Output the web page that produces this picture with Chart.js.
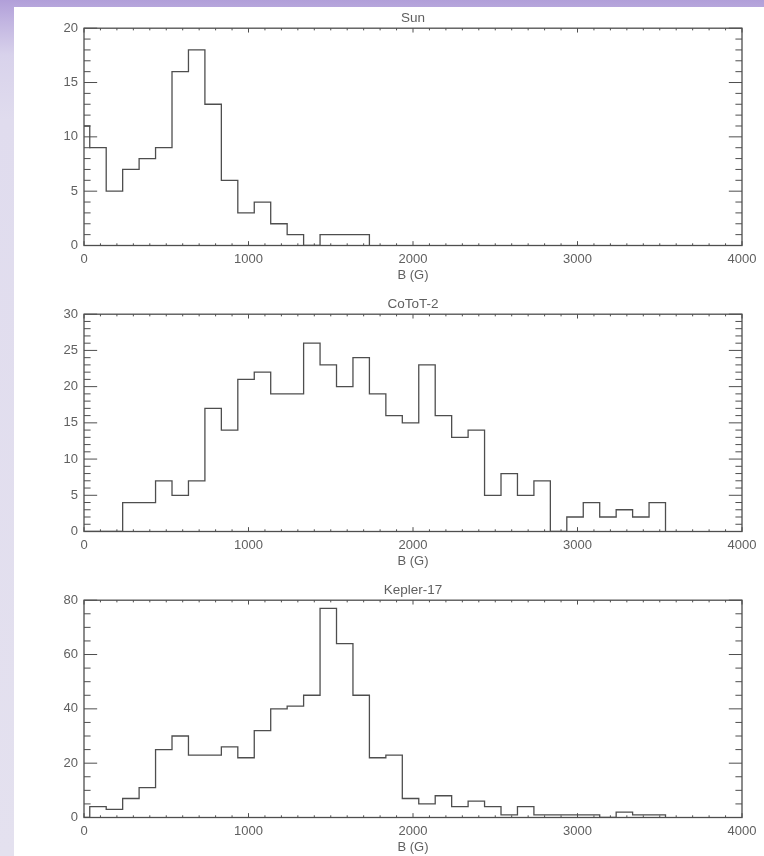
<!DOCTYPE html>
<html>
<head>
<meta charset="utf-8">
<script src="https://cdn.jsdelivr.net/npm/chart.js@4.4.1/dist/chart.umd.min.js"></script>
<style>
  html, body { margin: 0; padding: 0; width: 764px; height: 856px; overflow: hidden; }
  body {
    position: relative;
    background: linear-gradient(to bottom, #b19fd9 0px, #c2b5e1 22px, #d8d2eb 55px, #e0dcee 120px, #e4e1ef 100%);
  }
  #sheet { position: absolute; left: 14px; top: 7px; right: 0; bottom: 0; background: #ffffff; }
  canvas { position: absolute; left: 0; }
</style>
</head>
<body>
<div id="sheet"></div>
<canvas id="sunChart" width="764" height="286" style="top:0px"></canvas>
<canvas id="corotChart" width="764" height="286" style="top:286px"></canvas>
<canvas id="keplerChart" width="764" height="286" style="top:572px"></canvas>
<script>
// Bin edges of the field-strength histograms, in gauss (first bin is a partial one)
const binEdges = [0, 35, 135, 235, 335, 435, 535, 635, 735, 835, 935, 1035, 1135, 1235,
  1335, 1435, 1535, 1635, 1735, 1835, 1935, 2035, 2135, 2235, 2335, 2435, 2535, 2635,
  2735, 2835, 2935, 3035, 3135, 3235, 3335, 3435, 3535];

// Counts per bin for each star
const sunCounts = [11, 9, 5, 7, 8, 9, 16, 18, 13, 6, 3, 4, 2, 1, 0, 1, 1, 1];
const corotCounts = [0, 0, 0, 4, 4, 7, 5, 7, 17, 14, 21, 22, 19, 19, 26, 23, 20, 24, 19, 16,
  15, 23, 16, 13, 14, 5, 8, 5, 7, 0, 2, 4, 2, 3, 2, 4];
const keplerCounts = [0, 4, 3, 7, 11, 25, 30, 23, 23, 26, 22, 32, 40, 41, 45, 77, 64, 45, 22, 23,
  7, 5, 8, 4, 6, 4, 1, 4, 1, 1, 1, 1, 0, 2, 1, 1];

const panelTitles = ['Sun', 'CoToT-2', 'Kepler-17'];
const xAxisTitle = 'B (G)';
const xTickValues = [0, 1000, 2000, 3000, 4000];

const INK = '#4e4e4e';
const TEXT = '#606060';

Chart.defaults.font.family = '"Liberation Sans", Arial, sans-serif';
Chart.defaults.font.size = 13;
Chart.defaults.color = TEXT;

// Step points: each count sits on its bin's left edge, closed back to zero at the last edge
function stepPoints(counts) {
  const pts = counts.map((c, i) => ({ x: binEdges[i], y: c }));
  pts.push({ x: binEdges[counts.length], y: 0 });
  return pts;
}

// Box frame with inward major/minor tick marks on all four sides
const boxFrame = {
  id: 'boxFrame',
  afterDatasetsDraw(chart, args, opts) {
    const { ctx, chartArea: a, scales: { x, y } } = chart;
    const w = a.right - a.left, h = a.bottom - a.top;
    const xMaj = 0.02 * h, yMaj = 0.02 * w;
    ctx.save();
    ctx.strokeStyle = INK;
    ctx.lineWidth = 1;
    ctx.beginPath();
    for (let v = x.min; v <= x.max + 1e-6; v += opts.xMinor) {
      const px = x.getPixelForValue(v);
      const len = (Math.abs(v % opts.xMajor) < 1e-6) ? xMaj : xMaj / 2;
      ctx.moveTo(px, a.bottom); ctx.lineTo(px, a.bottom - len);
      ctx.moveTo(px, a.top); ctx.lineTo(px, a.top + len);
    }
    for (let v = y.min; v <= y.max + 1e-6; v += opts.yMinor) {
      const py = y.getPixelForValue(v);
      const len = (Math.abs(v % opts.yMajor) < 1e-6) ? yMaj : yMaj / 2;
      ctx.moveTo(a.left, py); ctx.lineTo(a.left + len, py);
      ctx.moveTo(a.right, py); ctx.lineTo(a.right - len, py);
    }
    ctx.stroke();
    ctx.lineWidth = 1.3;
    ctx.strokeRect(a.left, a.top, w, h);
    ctx.restore();
  }
};

function makePanel(canvasId, title, counts, yMax, yMajor, yMinor) {
  return new Chart(document.getElementById(canvasId), {
    type: 'line',
    data: {
      datasets: [{
        data: stepPoints(counts),
        stepped: true,
        borderColor: INK,
        borderWidth: 1.3,
        pointRadius: 0,
        fill: false,
        tension: 0
      }]
    },
    options: {
      responsive: false,
      animation: false,
      events: [],
      layout: { padding: { top: 0, right: 22, bottom: 0, left: 0 } },
      plugins: {
        legend: { display: false },
        tooltip: { enabled: false },
        title: {
          display: true,
          text: title,
          fullSize: false,
          color: TEXT,
          font: { size: 13.5, weight: 'normal' },
          padding: { top: 10, bottom: 2 }
        },
        boxFrame: { xMajor: 1000, xMinor: 100, yMajor: yMajor, yMinor: yMinor }
      },
      scales: {
        x: {
          type: 'linear',
          min: 0,
          max: 4000,
          afterBuildTicks(scale) { scale.ticks = xTickValues.map(v => ({ value: v })); },
          ticks: {
            padding: 6, maxRotation: 0, autoSkip: false, color: TEXT,
            callback: v => String(v)
          },
          grid: { display: false, drawTicks: false },
          border: { display: false },
          title: { display: true, text: xAxisTitle, color: TEXT, padding: { top: 0, bottom: 3 } },
          afterFit(scale) { scale.height = 40.5; }
        },
        y: {
          type: 'linear',
          min: 0,
          max: yMax,
          ticks: { stepSize: yMajor, padding: 6, color: TEXT, callback: v => String(v) },
          grid: { display: false, drawTicks: false },
          border: { display: false },
          afterFit(scale) { scale.width = 84; }
        }
      }
    },
    plugins: [boxFrame]
  });
}

makePanel('sunChart', panelTitles[0], sunCounts, 20, 5, 1);
makePanel('corotChart', panelTitles[1], corotCounts, 30, 5, 1);
makePanel('keplerChart', panelTitles[2], keplerCounts, 80, 20, 5);
</script>
</body>
</html>
